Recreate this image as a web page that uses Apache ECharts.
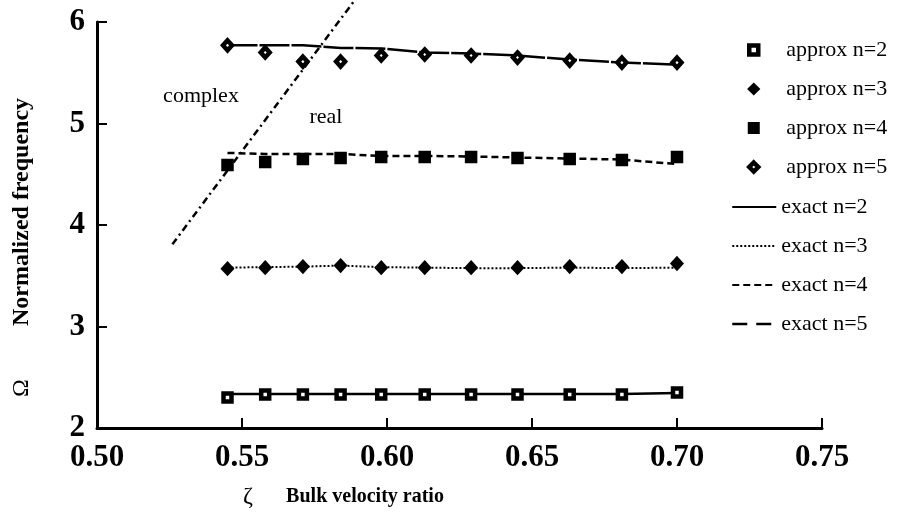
<!DOCTYPE html>
<html>
<head>
<meta charset="utf-8">
<script src="https://cdn.jsdelivr.net/npm/echarts@6/dist/echarts.min.js"></script>
<style>html,body{margin:0;padding:0;background:#fff}#c{width:897px;height:516px}</style>
</head>
<body>
<div id="c"></div>
<script>
// Bulk velocity ratio (x) sample points
var zeta = [0.545, 0.558, 0.571, 0.584, 0.598, 0.613, 0.629, 0.645, 0.663, 0.681, 0.700];
// approximate solutions (markers)
var approx2 = [2.30, 2.33, 2.33, 2.33, 2.33, 2.33, 2.33, 2.33, 2.33, 2.33, 2.35];
var approx3 = [3.57, 3.58, 3.59, 3.60, 3.58, 3.58, 3.58, 3.58, 3.59, 3.59, 3.62];
var approx4 = [4.59, 4.62, 4.65, 4.66, 4.67, 4.67, 4.67, 4.66, 4.65, 4.64, 4.67];
var approx5 = [5.77, 5.70, 5.61, 5.61, 5.67, 5.68, 5.67, 5.65, 5.62, 5.60, 5.60];
// exact solutions (lines)
var exact2 = [2.335, 2.335, 2.335, 2.335, 2.335, 2.335, 2.335, 2.335, 2.335, 2.335, 2.345];
var exact3 = [3.58, 3.585, 3.59, 3.60, 3.585, 3.58, 3.575, 3.575, 3.58, 3.575, 3.58];
var exact4 = [4.71, 4.70, 4.70, 4.70, 4.68, 4.68, 4.675, 4.665, 4.655, 4.645, 4.60];
var exact5 = [5.77, 5.77, 5.77, 5.745, 5.74, 5.70, 5.69, 5.67, 5.63, 5.60, 5.58];
// complex / real boundary
var boundaryZeta = [0.526, 0.589];
var boundaryOmega = [3.81, 6.22];
// axis ticks
var xTicks = {min: 0.50, max: 0.75, step: 0.05};
var yTicks = {min: 2, max: 6, step: 1};
var approxNames = ['approx n=2', 'approx n=3', 'approx n=4', 'approx n=5'];
var exactNames = ['exact n=2', 'exact n=3', 'exact n=4', 'exact n=5'];

function pairs(xs, ys) { return xs.map(function (x, i) { return [x, ys[i]]; }); }

var SERIF = '"Liberation Serif", "Times New Roman", serif';
var chart = echarts.init(document.getElementById('c'), null, {renderer: 'canvas'});

var lineBase = {type: 'line', symbol: 'none', color: '#000', z: 3, animation: false};
var legendText = {color: '#000', fontFamily: SERIF, fontSize: 22};

var openStyle = {color: '#fff', borderColor: '#000', borderWidth: 4.5, opacity: 1};
var solidStyle = {color: '#000', borderColor: '#000', borderWidth: 3, opacity: 1};

var option = {
  animation: false,
  backgroundColor: '#fff',
  grid: {left: 97, right: 75, top: 22, bottom: 88, containLabel: false},
  xAxis: {
    type: 'value', min: xTicks.min, max: xTicks.max, interval: xTicks.step,
    axisLine: {lineStyle: {color: '#000', width: 3}},
    axisTick: {inside: true, length: 10, lineStyle: {color: '#000', width: 2}},
    splitLine: {show: false},
    axisLabel: {color: '#000', fontFamily: SERIF, fontWeight: 'bold', fontSize: 31, margin: 14,
      formatter: function (v) { return v.toFixed(2); }}
  },
  yAxis: {
    type: 'value', min: yTicks.min, max: yTicks.max, interval: yTicks.step,
    axisLine: {lineStyle: {color: '#000', width: 3}},
    axisTick: {inside: true, length: 10, lineStyle: {color: '#000', width: 2}},
    splitLine: {show: false},
    axisLabel: {color: '#000', fontFamily: SERIF, fontWeight: 'bold', fontSize: 31, margin: 12}
  },
  legend: [
    {
      orient: 'vertical', left: 747, top: 39, padding: 0, itemWidth: 9, itemHeight: 9, itemGap: 17,
      textStyle: Object.assign({padding: [0, 0, 0, 23]}, legendText),
      data: [
        {name: approxNames[0], itemStyle: openStyle},
        {name: approxNames[1], itemStyle: solidStyle},
        {name: approxNames[2], itemStyle: solidStyle},
        {name: approxNames[3], itemStyle: openStyle}
      ]
    },
    {
      orient: 'vertical', left: 731, top: 196, padding: 0, itemWidth: 44, itemHeight: 3, itemGap: 17,
      textStyle: legendText,
      itemStyle: {opacity: 0, color: 'rgba(0,0,0,0)', borderWidth: 0},
      data: [
        {name: exactNames[0]}, {name: exactNames[1]}, {name: exactNames[2]},
        {name: exactNames[3], lineStyle: {type: [15, 9], width: 2.5}}
      ]
    }
  ],
  graphic: [
    {type: 'text', x: 22, y: 212, rotation: Math.PI / 2,
      style: {text: 'Normalized frequency', font: 'bold 24px ' + SERIF, fill: '#000', align: 'center', verticalAlign: 'middle'}},
    {type: 'text', x: 22, y: 388, rotation: Math.PI / 2,
      style: {text: 'Ω', font: '24px ' + SERIF, fill: '#000', align: 'center', verticalAlign: 'middle'}},
    {type: 'text', x: 248, y: 497,
      style: {text: 'ζ', font: '24px ' + SERIF, fill: '#000', align: 'center', verticalAlign: 'middle'}},
    {type: 'text', x: 365, y: 497,
      style: {text: 'Bulk velocity ratio', font: 'bold 20px ' + SERIF, fill: '#000', align: 'center', verticalAlign: 'middle'}},
    {type: 'text', x: 201, y: 96,
      style: {text: 'complex', font: '22px ' + SERIF, fill: '#000', align: 'center', verticalAlign: 'middle'}},
    {type: 'text', x: 326, y: 117,
      style: {text: 'real', font: '22px ' + SERIF, fill: '#000', align: 'center', verticalAlign: 'middle'}}
  ],
  series: [
    {name: approxNames[0], type: 'scatter', symbol: 'rect', symbolSize: 8, z: 5,
      itemStyle: {color: '#fff', borderColor: '#000', borderWidth: 4.5, opacity: 1}, data: pairs(zeta, approx2)},
    {name: approxNames[1], type: 'scatter', symbol: 'diamond', symbolSize: [10, 11], z: 5,
      itemStyle: {color: '#000', borderColor: '#000', borderWidth: 3, opacity: 1}, data: pairs(zeta, approx3)},
    {name: approxNames[2], type: 'scatter', symbol: 'rect', symbolSize: 10, z: 5,
      itemStyle: {color: '#000', borderColor: '#000', borderWidth: 2.5, opacity: 1}, data: pairs(zeta, approx4)},
    {name: approxNames[3], type: 'scatter', symbol: 'diamond', symbolSize: [9, 10], z: 5,
      itemStyle: {color: '#fff', borderColor: '#000', borderWidth: 4.5, opacity: 1}, data: pairs(zeta, approx5)},
    Object.assign({}, lineBase, {name: exactNames[0], lineStyle: {color: '#000', width: 2.5, type: 'solid'}, data: pairs(zeta, exact2)}),
    Object.assign({}, lineBase, {name: exactNames[1], lineStyle: {color: '#000', width: 2, type: [2, 2]}, data: pairs(zeta, exact3)}),
    Object.assign({}, lineBase, {name: exactNames[2], lineStyle: {color: '#000', width: 2.5, type: [7, 4]}, data: pairs(zeta, exact4)}),
    Object.assign({}, lineBase, {name: exactNames[3], lineStyle: {color: '#000', width: 2.5, type: [30, 2]}, data: pairs(zeta, exact5)}),
    {type: 'line', symbol: 'none', clip: false, silent: true, z: 4,
      lineStyle: {color: '#000', width: 2.5, type: [7, 4, 2, 4]},
      data: pairs(boundaryZeta, boundaryOmega)}
  ]
};
chart.setOption(option);
</script>
</body>
</html>
